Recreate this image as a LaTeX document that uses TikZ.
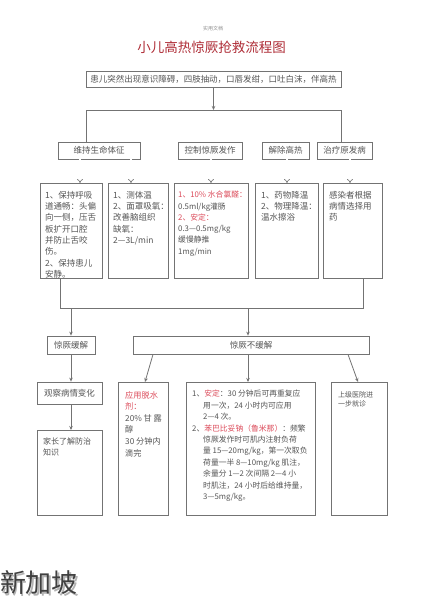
\documentclass[tikz,border=0pt]{standalone}
\usepackage{fontspec}
\setmainfont{Noto Sans CJK SC}
\usetikzlibrary{arrows.meta}

\definecolor{linegray}{RGB}{115,115,115}
\definecolor{txtgray}{RGB}{85,85,85}
\definecolor{txtred}{RGB}{220,75,90}
\definecolor{titlered}{RGB}{175,45,55}

\tikzset{
    box/.style={draw=linegray, line width=0.8pt, inner sep=0pt, fill=white},
    boxtext/.style={font=\fontsize{8.5}{10}\selectfont, text=txtgray},
    body/.style={anchor=north west, align=left, inner sep=0pt, text=txtgray, font=\fontsize{8.5}{11.3}\selectfont},
    conn/.style={draw=linegray, line width=0.8pt},
    arr/.style={-{Stealth[length=4pt,width=3.5pt]}},
    hollow/.style={draw=linegray, double, double distance=1.4pt, line width=0.6pt, -{Implies}},
}

\begin{document}
\begin{tikzpicture}[x=1pt, y=-1pt]

    \path[fill=white] (0,0) rectangle (424,600);
    \useasboundingbox (0,0) rectangle (424,600);

    % heading
    \node[font=\fontsize{5}{5}\selectfont, text=black!45] (doc) at (213,29) {实用文档};
    \node[font=\fontsize{13.5}{14}\selectfont, text=titlered] (title) at (211.5,47) {小儿高热惊厥抢救流程图};

    \node[box, boxtext, minimum width=255pt, minimum height=16pt] (onset) at (213.5,79)
        {患儿突然出现意识障碍，四肢抽动，口唇发绀，口吐白沫，伴高热};

    % second row
    \node[box, boxtext, minimum width=82pt, minimum height=17pt] (vital) at (99,150.5) {维持生命体征};
    \node[box, boxtext, minimum width=64pt, minimum height=17pt] (control) at (210,150.5) {控制惊厥发作};
    \node[box, boxtext, minimum width=47pt, minimum height=17pt] (cool) at (285.5,150.5) {解除高热};
    \node[box, boxtext, minimum width=55pt, minimum height=17pt] (cause) at (344.5,150.5) {治疗原发病};

    \coordinate (split1) at (213.5,110);
    \coordinate (l1) at (86,110);
    \coordinate (r1) at (341,110);
    \path[conn, arr] (onset) -- (split1);
    \path[conn] (vital.north -| l1) -- (l1) -- (r1) -- (cause.north -| r1);

    % third row
    \node[box, anchor=north west, minimum width=62pt, minimum height=95pt] (airway) at (40,183) {};
    \node[box, anchor=north west, minimum width=60pt, minimum height=95pt] (oxygen) at (108,183) {};
    \node[box, anchor=north west, minimum width=74pt, minimum height=95pt] (sedate) at (174,183) {};
    \node[box, anchor=north west, minimum width=63pt, minimum height=95pt] (lower) at (255,183) {};
    \node[box, anchor=north west, minimum width=59pt, minimum height=95pt] (treat) at (323,183) {};

    \node[body] (airwaytxt) at ([xshift=5pt,yshift=-8pt]airway.north west)
        {1、保持呼吸\\道通畅：头偏\\向一侧，压舌\\板扩开口腔\\并防止舌咬\\伤。\\2、保持患儿\\安静。};
    \node[body] (oxygentxt) at ([xshift=5pt,yshift=-8pt]oxygen.north west)
        {1、测体温\\2、面罩吸氧：\\改善脑组织\\缺氧：\\2—3L/min};
    \node[body, font=\fontsize{7.8}{11.3}\selectfont] (sedatetxt) at ([xshift=4pt,yshift=-8pt]sedate.north west)
        {\textcolor{txtred}{1、10\% 水合氯醛：}\\0.5ml/kg灌肠\\\textcolor{txtred}{2、安定：}\\0.3—0.5mg/kg\\缓慢静推\\1mg/min};
    \node[body] (lowertxt) at ([xshift=6pt,yshift=-8pt]lower.north west)
        {1、药物降温\\2、物理降温：\\温水擦浴};
    \node[body] (treattxt) at ([xshift=6pt,yshift=-8pt]treat.north west)
        {感染者根据\\病情选择用\\药};

    \path[hollow] (vital.south -| 80,0) -- (airway.north -| 80,0);
    \path[hollow] (vital.south -| 131,0) -- (oxygen.north -| 131,0);
    \path[hollow] (control.south -| 211,0) -- (sedate.north -| 211,0);
    \path[hollow] (cool.south -| 287,0) -- (lower.north -| 287,0);
    \path[hollow] (cause.south -| 350,0) -- (treat.north -| 350,0);

    % outcome
    \node[box, boxtext, minimum width=48pt, minimum height=18pt] (relief) at (71,345) {惊厥缓解};
    \node[box, boxtext, minimum width=236pt, minimum height=18pt] (norelief) at (251,345) {惊厥不缓解};

    \coordinate (l2) at (60,308);
    \coordinate (r2) at (363,308);
    \coordinate (m2) at (248,308);
    \path[conn] (airway.south -| l2) -- (l2) -- (r2) -- (treat.south -| r2);
    \path[conn, arr] (l2 -| relief.north) -- (relief.north);
    \path[conn, arr] (m2) -- (norelief.north -| m2);

    % left column
    \node[box, boxtext, minimum width=65pt, minimum height=22pt] (watch) at (69.5,393) {观察病情变化};
    \node[box, anchor=north west, minimum width=65pt, minimum height=85pt] (teach) at (37,430) {};
    \node[body, font=\fontsize{8}{10.5}\selectfont] (teachtxt) at ([xshift=6pt,yshift=-8pt]teach.north west)
        {家长了解防治\\知识};
    \path[conn, arr] (relief) -- (relief.south |- watch.north);
    \path[conn, arr] (watch.south -| relief.south) -- (teach.north -| relief.south);

    % right part
    \node[box, anchor=north west, minimum width=50pt, minimum height=133pt] (dehyd) at (118,382) {};
    \node[box, anchor=north west, minimum width=129pt, minimum height=133pt] (drugs) at (186,382) {};
    \node[box, anchor=north west, minimum width=56pt, minimum height=133pt] (refer) at (331,382) {};

    \node[body, font=\fontsize{8.2}{11.6}\selectfont] (dehydtxt) at ([xshift=7pt,yshift=-9pt]dehyd.north west)
        {\textcolor{txtred}{应用脱水}\\\textcolor{txtred}{剂：}\\20\% 甘 露\\醇\\30 分钟内\\滴完};
    \node[body, font=\fontsize{7.8}{11.4}\selectfont] (drugstxt) at ([xshift=6pt,yshift=-8pt]drugs.north west)
        {1、\textcolor{txtred}{安定}：30 分钟后可再重复应\\
        \hspace*{11pt}用一次，24 小时内可应用\\
        \hspace*{11pt}2—4 次。\\
        2、\textcolor{txtred}{苯巴比妥钠（鲁米那）}：频繁\\
        \hspace*{11pt}惊厥发作时可肌内注射负荷\\
        \hspace*{11pt}量 15—20mg/kg，第一次取负\\
        \hspace*{11pt}荷量一半 8—10mg/kg 肌注，\\
        \hspace*{11pt}余量分 1—2 次间隔 2—4 小\\
        \hspace*{11pt}时肌注，24 小时后给维持量，\\
        \hspace*{11pt}3—5mg/kg。};
    \node[body, font=\fontsize{7}{9.5}\selectfont] (refertxt) at ([xshift=7pt,yshift=-9pt]refer.north west)
        {上级医院进\\一步就诊};

    \path[conn, arr] (norelief.south -| 153,0) -- (dehyd.north -| 145,0);
    \path[conn, arr] (norelief.south -| m2) -- (drugs.north -| m2);
    \path[conn, arr] (norelief.south -| 348,0) -- (refer.north -| 358,0);

    % stamp
    \node[font=\fontsize{26}{26}\selectfont, text=black!30] (stampshadow) at (40.5,584.5) {新加坡};
    \node[font=\fontsize{26}{26}\selectfont, text=black!75] (stamp) at (39,583) {新加坡};

\end{tikzpicture}
\end{document}
